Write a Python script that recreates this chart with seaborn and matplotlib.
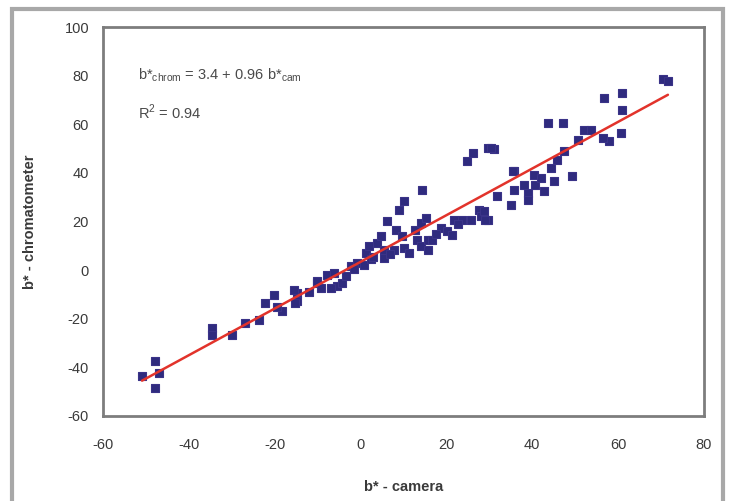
import numpy as np
import pandas as pd
import matplotlib
matplotlib.use("Agg")
import matplotlib.pyplot as plt
import seaborn as sns
from matplotlib.patches import Rectangle

# b* measured by the camera and by the chromatometer
b_camera = [
    -47.8, -50.9, -47.0, -47.8, -34.6, -34.6, -30.0, -27.0, -23.7, -22.2,
    -20.2, -18.3, -14.8, -14.8, -10.1, -15.6, -15.2, -10.1, -7.8, -6.2,
    -5.4, -4.3, -9.3, -7.0, -2.3, -0.8, 0.8, 1.2, 1.9, 3.9,
    4.7, 5.4, 5.4, 6.1, 8.2, 9.0, 10.1, 7.8, 10.1, 11.3,
    9.7, 12.8, 13.2, 14.0, 14.4, 15.2, 14.0, 15.6, 15.6, 16.7,
    18.7, 20.2, 21.4, 21.8, 23.7, 25.7, 27.6, 28.0, 29.6, 24.9,
    26.1, 29.6, 31.1, 31.9, 35.0, 35.8, 35.8, 70.4, 71.6, 56.8,
    61.0, 61.0, 60.7, 57.9, 56.4, 52.1, 53.7, 50.6, 43.6, 47.1,
    47.4, 45.8, 44.4, 45.0, 49.3, 30.3, 35.4, 40.4, 38.1, 38.9,
    42.8, 40.7, 38.9, 28.8, 29.1, 42.0, -3.5, -1.5, 2.5, 6.8,
    -12.0, -19.5, 3.0, 17.5, 22.8,
]
b_chromatometer = [
    -37.5, -43.7, -42.3, -48.5, -23.8, -26.5, -26.5, -21.7, -20.4, -13.5,
    -10.1, -17.0, -9.4, -12.8, -5.3, -8.0, -13.5, -4.6, -1.9, -1.2,
    -6.7, -5.3, -7.3, -7.3, 1.6, 3.0, 2.3, 7.1, 9.8, 11.2,
    13.9, 8.4, 5.0, 20.1, 16.7, 24.9, 28.3, 8.4, 9.1, 7.1,
    13.9, 16.7, 12.6, 19.4, 33.1, 21.5, 9.8, 12.6, 8.4, 12.6,
    17.4, 16.0, 14.6, 20.8, 20.8, 20.8, 24.9, 22.1, 20.8, 44.8,
    48.2, 50.3, 49.9, 30.4, 27.0, 40.7, 33.1, 78.7, 77.7, 70.9,
    72.9, 66.0, 56.5, 53.0, 54.4, 57.8, 57.8, 53.7, 60.6, 60.6,
    48.9, 45.5, 42.1, 36.5, 38.6, 50.3, 40.7, 39.3, 35.2, 31.8,
    32.4, 35.2, 29.0, 24.2, 20.8, 38.0, -2.5, 0.5, 4.5, 6.5,
    -9.0, -15.0, 5.5, 15.0, 19.0,
]

# Fitted relation reported on the chart
intercept = 3.4
slope = 0.96
r_squared = 0.94

x_ticks = [-60, -40, -20, 0, 20, 40, 60, 80]
y_ticks = [-60, -40, -20, 0, 20, 40, 60, 80, 100]

df = pd.DataFrame({"camera": b_camera, "chromatometer": b_chromatometer})
x_fit = np.array([min(b_camera), max(b_camera)])
fit = pd.DataFrame({"camera": x_fit, "chromatometer": intercept + slope * x_fit})

sns.set_theme(style="white")
plt.rcParams["font.family"] = ["Liberation Sans", "DejaVu Sans"]

fig = plt.figure(figsize=(7.33, 5.01), dpi=100)
ax = fig.add_axes([0.1405, 0.1697, 0.8199, 0.7763])

sns.scatterplot(data=df, x="camera", y="chromatometer", ax=ax, marker="s",
                s=34, color="#2f2b7e", edgecolor="#3a3388", linewidth=0.8,
                zorder=2)
sns.lineplot(data=fit, x="camera", y="chromatometer", ax=ax, color="#e2332b",
             linewidth=1.8, zorder=3)

ax.set_xlim(-60, 80)
ax.set_ylim(-60, 100)
ax.set_xticks(x_ticks)
ax.set_yticks(y_ticks)
ax.set_xticklabels([str(v) for v in x_ticks])
ax.set_yticklabels([str(v) for v in y_ticks])
ax.tick_params(axis="both", which="major", direction="out", length=4,
               width=1.2, color="#909090", labelsize=10.5,
               labelcolor="#3a3a3a", pad=6)
ax.tick_params(axis="x", pad=12)
for side in ["left", "bottom", "right", "top"]:
    ax.spines[side].set_visible(True)
    ax.spines[side].set_color("#7d7d7d")
    ax.spines[side].set_linewidth(2.0)

ax.set_xlabel("b* - camera", fontsize=10.5, fontweight="bold",
              color="#3a3a3a", labelpad=20)
ax.set_ylabel("b* - chromatometer", fontsize=10.5, fontweight="bold",
              color="#3a3a3a", labelpad=20)

ax.text(0.058, 0.877,
        r"b*$_{\mathregular{chrom}}$ = " + f"{intercept} + {slope} "
        + r"b*$_{\mathregular{cam}}$",
        transform=ax.transAxes, fontsize=10.5, color="#4a4a4a", va="center")
ax.text(0.058, 0.781, r"R$^{\mathregular{2}}$ = " + f"{r_squared}",
        transform=ax.transAxes, fontsize=10.5, color="#4a4a4a", va="center")

# Grey frame around the whole chart
fig.patches.append(Rectangle((12 / 733, -0.02), 711 / 733, 492 / 501 + 0.02,
                             transform=fig.transFigure, fill=False,
                             edgecolor="#a8a8a8", linewidth=3.0))

fig.savefig("out.png", dpi=100, facecolor="white")
